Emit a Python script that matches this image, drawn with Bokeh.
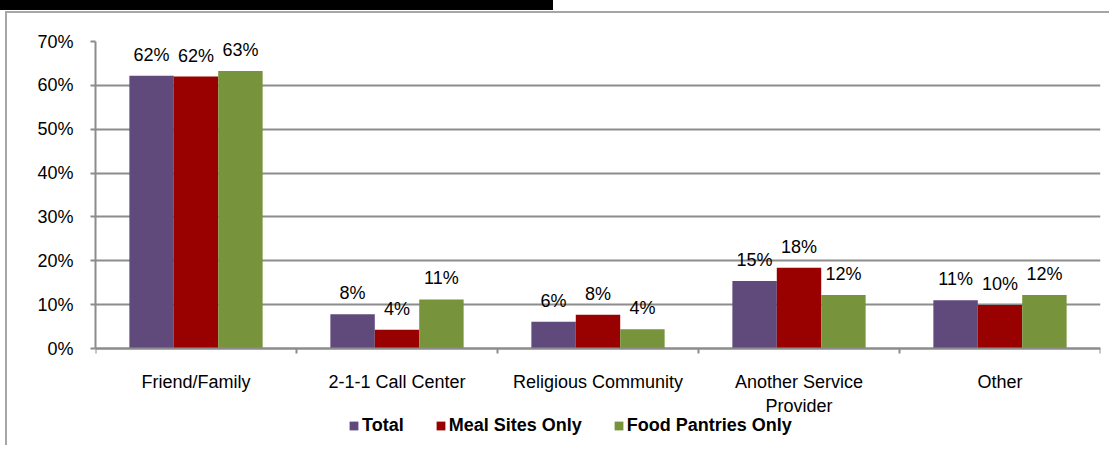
import numpy as np
from bokeh.plotting import figure
from bokeh.models import (Range1d, FixedTicker, PrintfTickFormatter, Legend, LegendItem,
                          ColumnDataSource)
from bokeh.core.properties import value
from bokeh.embed import file_html
from bokeh.resources import INLINE

categories = ["Friend/Family", "2-1-1 Call Center", "Religious Community",
              "Another Service\nProvider", "Other"]
series = ["Total", "Meal Sites Only", "Food Pantries Only"]
total = [62.2, 7.8, 6.1, 15.4, 11.0]
meal_sites = [62.0, 4.3, 7.7, 18.4, 9.9]
food_pantries = [63.3, 11.2, 4.4, 12.2, 12.2]
y_ticks = [0, 10, 20, 30, 40, 50, 60, 70]

colors = ["#604A7B", "#990000", "#77933C"]
FONT = "Liberation Sans"
GRAY = "#8C8C8C"

# plot area: 0..70% over 307px; extra room below for labels and legend (97px)
PLOT_H, EXTRA_H = 307, 97
y_min = -EXTRA_H / PLOT_H * y_ticks[-1]

p = figure(frame_width=1005, frame_height=PLOT_H + EXTRA_H,
           x_range=Range1d(0, len(categories)), y_range=Range1d(y_min, y_ticks[-1]),
           output_backend="svg", toolbar_location=None,
           min_border_left=95, min_border_right=9, min_border_top=41, min_border_bottom=0)
p.outline_line_color = None
p.background_fill_color = "white"
p.border_fill_color = None
# page decoration: black box at the top-left and the thin gray chart-area frame
p.styles = {
    "background": ("linear-gradient(#000,#000) 0px 0px / 553px 10px no-repeat, "
                   "linear-gradient(#A6A6A6,#A6A6A6) 5px 11px / 2px 100% no-repeat, "
                   "linear-gradient(#A6A6A6,#A6A6A6) 5px 11px / 100% 2px no-repeat, "
                   "white"),
}

centers = np.arange(len(categories)) + 0.5
bar_w = 0.221
renderers = []
for j, (name, vals) in enumerate(zip(series, [total, meal_sites, food_pantries])):
    src = ColumnDataSource(dict(
        x=centers + (j - 1) * bar_w,
        top=vals,
        label=["%d%%" % int(round(v)) for v in vals],
    ))
    r = p.vbar(x="x", top="top", width=bar_w, source=src, fill_color=colors[j],
               line_color=None)
    renderers.append(r)
    p.text(x="x", y="top", text="label", source=src, text_align="center",
           text_baseline="middle", y_offset=-21, text_font=value(FONT),
           text_font_size="18px", text_color="black")

# y axis
p.yaxis.ticker = FixedTicker(ticks=y_ticks)
p.yaxis.bounds = (y_ticks[0], y_ticks[-1])
p.yaxis.formatter = PrintfTickFormatter(format="%d%%")
p.yaxis.axis_line_color = GRAY
p.yaxis.axis_line_width = 2
p.yaxis.major_tick_out = 5
p.yaxis.major_tick_in = 0
p.yaxis.major_tick_line_color = GRAY
p.yaxis.major_tick_line_width = 2
p.yaxis.minor_tick_line_color = None
p.yaxis.major_label_standoff = 17
p.yaxis.major_label_text_font = FONT
p.yaxis.major_label_text_font_size = "18px"
p.yaxis.major_label_text_color = "black"

p.ygrid.grid_line_color = GRAY
p.ygrid.grid_line_width = 2
p.xgrid.visible = False

# x axis, drawn at 0%
p.xaxis.fixed_location = 0
p.xaxis.ticker = FixedTicker(ticks=list(centers),
                             minor_ticks=list(range(len(categories) + 1)))
p.xaxis.major_label_overrides = {float(c): lab for c, lab in zip(centers, categories)}
p.xaxis.axis_line_color = GRAY
p.xaxis.axis_line_width = 2
p.xaxis.major_tick_out = 0
p.xaxis.major_tick_in = 0
p.xaxis.minor_tick_out = 5
p.xaxis.minor_tick_in = 0
p.xaxis.minor_tick_line_color = GRAY
p.xaxis.minor_tick_line_width = 2
p.xaxis.major_label_standoff = 18
p.xaxis.major_label_text_font = FONT
p.xaxis.major_label_text_font_size = "18px"
p.xaxis.major_label_text_color = "black"

legend = Legend(items=[LegendItem(label=n, renderers=[r]) for n, r in zip(series, renderers)],
                orientation="horizontal", location=(253, 9),
                label_text_font=FONT, label_text_font_style="bold",
                label_text_font_size="18px", label_text_color="black",
                glyph_width=11, glyph_height=11, label_standoff=3, spacing=31,
                padding=0, margin=0, border_line_color=None, background_fill_alpha=0)
p.add_layout(legend, "center")

open("out.html", "w").write(file_html(p, INLINE))
